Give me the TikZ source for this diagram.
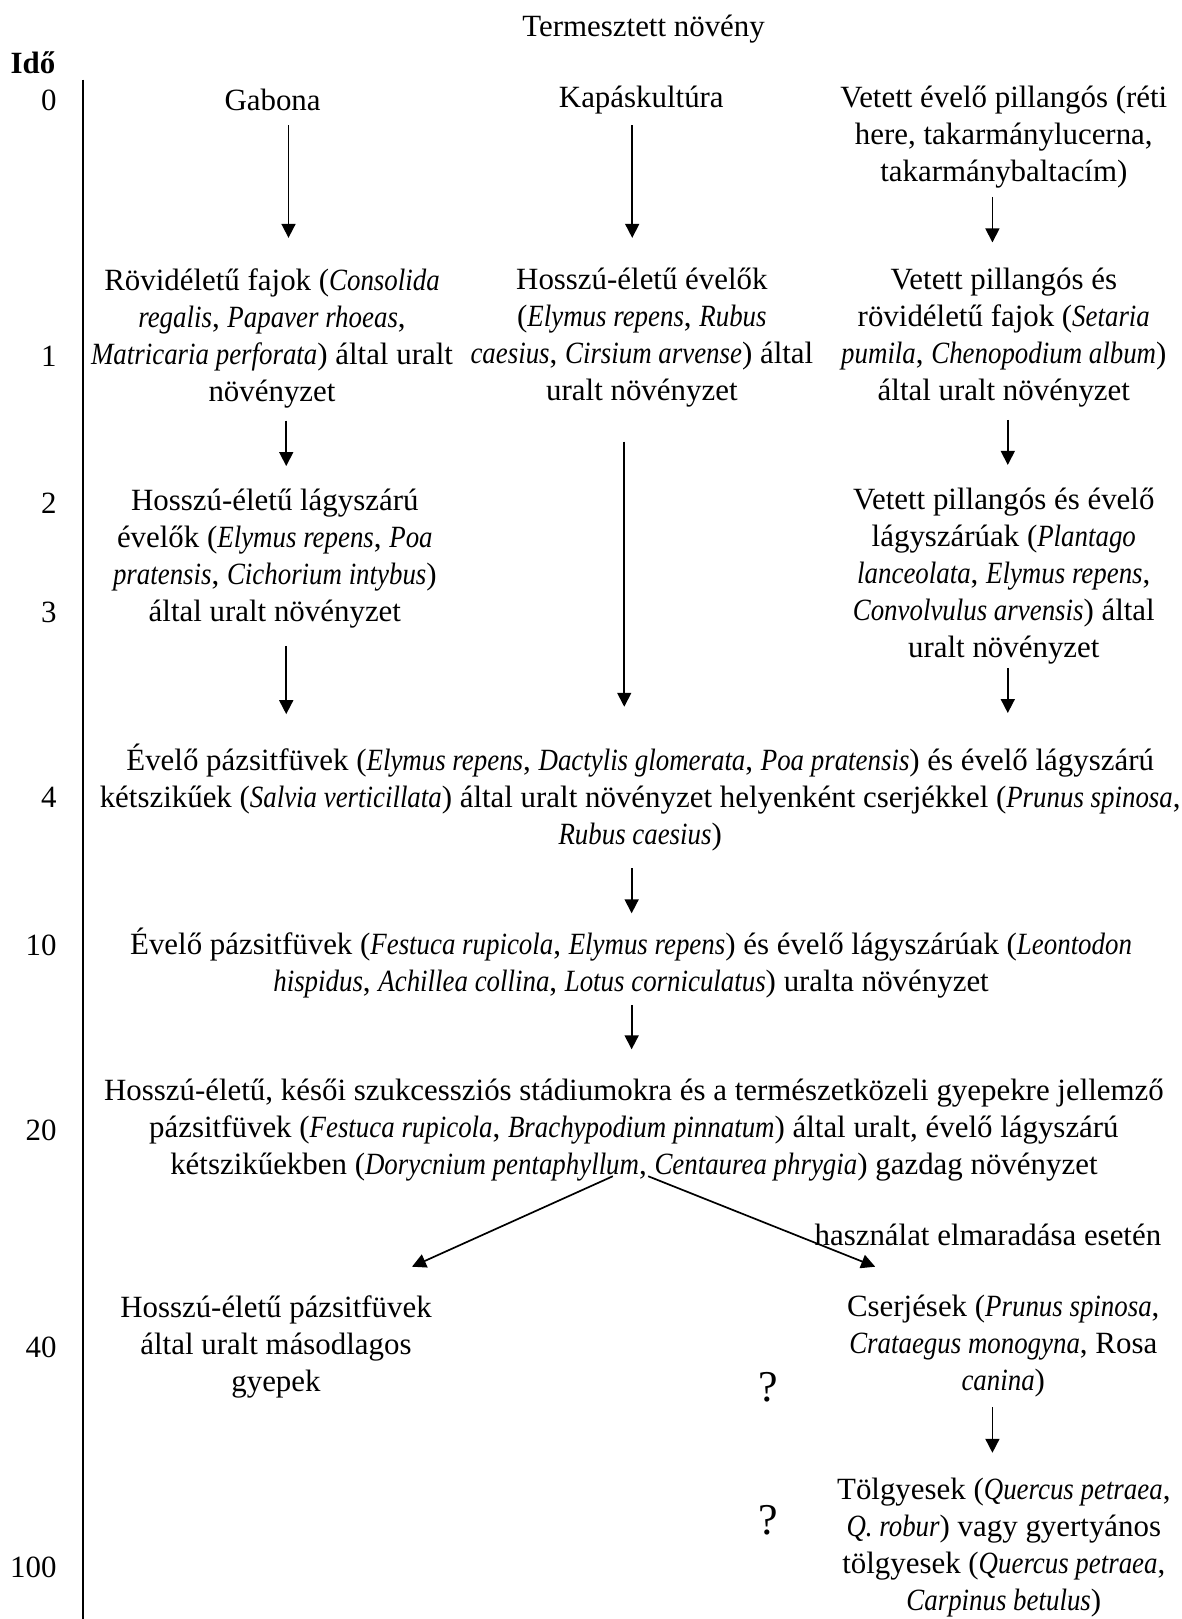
\documentclass[tikz,border=0pt]{standalone}
\usepackage{fontspec}
\setmainfont{Liberation Serif}[ItalicFeatures={FakeStretch=0.87}]
\usetikzlibrary{arrows.meta,calc}

\begin{document}
\begin{tikzpicture}[
  font=\fontsize{15.45}{18.5}\selectfont,
  txt/.style={align=center, inner sep=0pt},
  tick/.style={anchor=east, inner sep=0pt},
  arrow/.style={
    -{Triangle[length=7pt,width=7pt]},
    line width=0.85pt},
  axis/.style={line width=0.85pt},
  ask/.style={inner sep=0pt,
    font=\fontsize{22}{26}\selectfont}
]
\useasboundingbox (0,0) rectangle (20.754,-28.451);

% header and time axis
\node[txt] (head) at (11.31,-0.52) {Termesztett növény};
\node[txt, anchor=west, font=\fontsize{15.45}{18.5}\selectfont\bfseries]
  (ido) at (0.18,-1.11) {Idő};
\coordinate (axtop) at (1.464,-1.40);
\coordinate (axbot) at (1.464,-28.451);
\draw[axis] (axtop) -- (axbot);

\node[tick] (t0)   at (1.00,-1.76)  {0};
\node[tick] (t1)   at (1.00,-6.27)  {1};
\node[tick] (t2)   at (1.00,-8.84)  {2};
\node[tick] (t3)   at (1.00,-10.77) {3};
\node[tick] (t4)   at (1.00,-14.01) {4};
\node[tick] (t10)  at (1.00,-16.61) {10};
\node[tick] (t20)  at (1.00,-19.86) {20};
\node[tick] (t40)  at (1.00,-23.67) {40};
\node[tick] (t100) at (1.00,-27.54) {100};

% starting crops
\node[txt] (gab) at (4.79,-1.76) {Gabona};
\node[txt] (kap) at (11.27,-1.76) {Kapáskultúra};
\node[txt] (vet) at (17.64,-2.41)
  {Vetett évelő pillangós (réti\\
   here, takarmánylucerna,\\
   takarmánybaltacím)};

% first years
\node[txt] (rov) at (4.78,-5.94)
  {Rövidéletű fajok (\textit{Consolida}\\
   \textit{regalis}, \textit{Papaver rhoeas},\\
   \textit{Matricaria perforata}) által uralt\\
   növényzet};
\node[txt] (hev) at (11.28,-5.94)
  {Hosszú-életű évelők\\
   (\textit{Elymus repens}, \textit{Rubus}\\
   \textit{caesius}, \textit{Cirsium arvense}) által\\
   uralt növényzet};
\node[txt] (vpr) at (17.64,-5.94)
  {Vetett pillangós és\\
   rövidéletű fajok (\textit{Setaria}\\
   \textit{pumila}, \textit{Chenopodium album})\\
   által uralt növényzet};

\node[txt] (hlag) at (4.83,-9.81)
  {Hosszú-életű lágyszárú\\
   évelők (\textit{Elymus repens}, \textit{Poa}\\
   \textit{pratensis}, \textit{Cichorium intybus})\\
   által uralt növényzet};
\node[txt] (vpe) at (17.64,-10.12)
  {Vetett pillangós és évelő\\
   lágyszárúak (\textit{Plantago}\\
   \textit{lanceolata}, \textit{Elymus repens},\\
   \textit{Convolvulus arvensis}) által\\
   uralt növényzet};

% common stages
\node[txt] (r4) at (11.25,-14.01)
  {Évelő pázsitfüvek (\textit{Elymus repens}, \textit{Dactylis glomerata}, \textit{Poa pratensis}) és évelő lágyszárú\\
   kétszikűek (\textit{Salvia verticillata}) által uralt növényzet helyenként cserjékkel (\textit{Prunus spinosa},\\
   \textit{Rubus caesius})};
\node[txt] (r10) at (11.09,-16.93)
  {Évelő pázsitfüvek (\textit{Festuca rupicola}, \textit{Elymus repens}) és évelő lágyszárúak (\textit{Leontodon}\\
   \textit{hispidus}, \textit{Achillea collina}, \textit{Lotus corniculatus}) uralta növényzet};
\node[txt] (r20) at (11.14,-19.86)
  {Hosszú-életű, késői szukcessziós stádiumokra és a természetközeli gyepekre jellemző\\
   pázsitfüvek (\textit{Festuca rupicola}, \textit{Brachypodium pinnatum}) által uralt, évelő lágyszárú\\
   kétszikűekben (\textit{Dorycnium pentaphyllum}, \textit{Centaurea phrygia}) gazdag növényzet};

\node[txt] (hasz) at (17.36,-21.70) {használat elmaradása esetén};

% late stages
\node[txt] (hpasz) at (4.85,-23.67)
  {Hosszú-életű pázsitfüvek\\
   által uralt másodlagos\\
   gyepek};
\node[txt] (cserj) at (17.63,-23.66)
  {Cserjések (\textit{Prunus spinosa},\\
   \textit{Crataegus monogyna}, Rosa\\
   \textit{canina})};
\node[txt] (tolgy) at (17.64,-27.19)
  {Tölgyesek (\textit{Quercus petraea},\\
   \textit{Q.\ robur}) vagy gyertyános\\
   tölgyesek (\textit{Quercus petraea},\\
   \textit{Carpinus betulus})};

\node[ask] (q1) at (13.50,-24.37) {?};
\node[ask] (q2) at (13.50,-26.71) {?};

% arrows
\draw[arrow] ($(gab.center)+(0.28,-0.44)$) --
  ($(gab.center |- rov.center)+(0.28,1.76)$);
\draw[arrow] ($(kap.center)+(-0.16,-0.44)$) --
  ($(kap.center |- hev.center)+(-0.16,1.76)$);
\draw[arrow] ($(vet.center)+(-0.20,-1.05)$) --
  ($(vet.center |- vpr.center)+(-0.20,1.68)$);
\draw[arrow] ($(rov.center)+(0.25,-1.45)$) --
  ($(rov.center |- hlag.center)+(0.25,1.62)$);
\draw[arrow] ($(vpr.center)+(0.07,-1.44)$) --
  ($(vpr.center |- vpe.center)+(0.07,1.95)$);
\draw[arrow] ($(hev.center)+(-0.31,-1.82)$) --
  ($(hev.center |- r4.center)+(-0.31,1.59)$);
\draw[arrow] ($(hlag.center)+(0.20,-1.54)$) --
  ($(hlag.center |- r4.center)+(0.20,1.46)$);
\draw[arrow] ($(vpe.center)+(0.07,-1.62)$) --
  ($(vpe.center |- r4.center)+(0.07,1.48)$);
\draw[arrow] ($(r4.center)+(-0.15,-1.25)$) --
  ($(r4.center |- r10.center)+(-0.15,0.88)$);
\draw[arrow] ($(r10.center)+(0.01,-0.73)$) --
  ($(r10.center |- r20.center)+(0.01,1.42)$);
\draw[arrow] ($(r20.center)+(-0.37,-0.81)$) --
  ($(hpasz.center)+(2.39,1.41)$);
\draw[arrow] ($(r20.center)+(0.25,-0.81)$) --
  ($(cserj.center)+(-2.25,1.40)$);
\draw[arrow] ($(cserj.center)+(-0.19,-1.07)$) --
  ($(cserj.center |- tolgy.center)+(-0.19,1.66)$);
\end{tikzpicture}
\end{document}
